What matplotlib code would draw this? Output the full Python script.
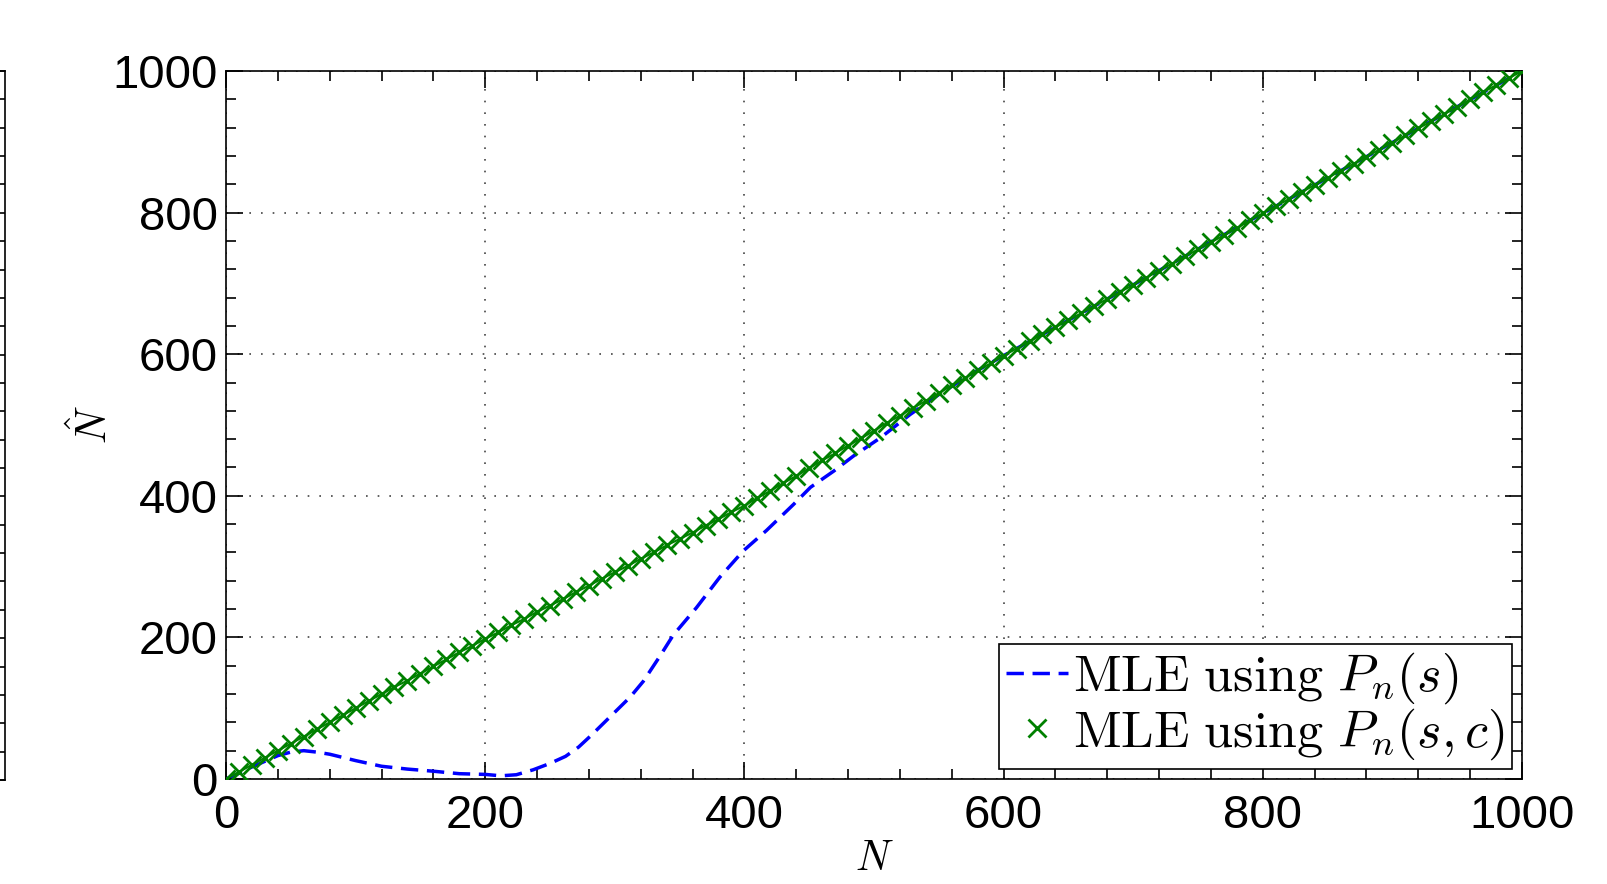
import numpy as np
import matplotlib
matplotlib.use('Agg')
from matplotlib import pyplot as plt
from matplotlib.ticker import MultipleLocator

plt.rcParams['font.family'] = ['Liberation Sans', 'DejaVu Sans']
plt.rcParams['mathtext.fontset'] = 'cm'

# MLE using P_n(s)  (blue dashed)
n_s = [0, 10, 20, 30, 40, 50, 60, 70, 80, 100, 120, 140, 160, 180, 200,
       212, 224, 237, 250, 262, 272, 282, 292, 302, 312, 322, 335, 345,
       363, 381, 399, 417, 438, 451, 469, 484, 505, 528, 550, 575, 600,
       650, 700, 800, 900, 1000]
est_s = [0, 8, 17, 25, 33, 38, 40, 38, 35, 26, 18, 14, 11, 7.5, 6.5,
         4.5, 6, 13, 22, 32, 45, 62, 80, 98, 116, 138, 174, 203,
         242, 285, 322, 351, 388, 412, 435, 456, 482, 515, 543, 572, 598,
         648, 698, 799, 899, 1000]

# MLE using P_n(s, c)  (green crosses, every 10)
n_sc = list(range(0, 1001, 10))
est_sc = [0, 10, 20, 30, 40, 50, 60, 70, 80, 90, 100, 110, 120, 130, 139,
          149, 159, 169, 179, 188, 198,
          207, 217, 226, 236, 245, 254, 264, 273, 283, 292, 301, 311, 320,
          330, 339, 348, 358, 367, 377, 386,
          397, 407, 418, 428, 439, 450, 460, 471, 481, 492, 503, 513, 524,
          534, 545, 556, 566, 577, 587, 598,
          608, 618, 628, 638, 648, 658, 668, 678, 688, 698, 708, 718, 728,
          738, 748, 758, 768, 778, 789, 799,
          809, 819, 829, 839, 849, 859, 869, 879, 889, 899, 909, 919, 929,
          939, 949, 960, 970, 980, 990, 1000]

x_ticks = [0, 200, 400, 600, 800, 1000]
y_ticks = [0, 200, 400, 600, 800, 1000]

W, H = 1608, 884
fig = plt.figure(figsize=(W / 100, H / 100), dpi=100)

# right edge of a neighbouring panel, cut off at the left border
side = fig.add_axes([-0.3, 1 - 780 / H, 0.3 + 5 / W, (780 - 71) / H])
side.set_ylim(0, 1000)
side.set_xticks([])
side.yaxis.set_major_locator(MultipleLocator(40))
side.yaxis.tick_right()
side.tick_params(axis='y', direction='in', length=7, width=1.2,
                 labelright=False)
for sp in side.spines.values():
    sp.set_linewidth(1.2)

ax = fig.add_axes([226 / W, 1 - 779 / H, (1522 - 226) / W, (779 - 71) / H])

ax.plot(n_s, est_s, color='blue', linestyle=(0, (5, 2.5)), linewidth=2.5,
        label=r'$\mathrm{MLE\ using}\ P_n(s)$')
ax.plot(n_sc, est_sc, color=(0, 0.5, 0), linewidth=1.5, zorder=3)
ax.plot(n_sc, est_sc, linestyle='none', marker='x', markersize=13,
        markeredgewidth=2, color=(0, 0.5, 0), zorder=4,
        label=r'$\mathrm{MLE\ using}\ P_n(s,c)$')

ax.set_xlim(0, 1000)
ax.set_ylim(0, 1000)
ax.set_xticks(x_ticks)
ax.set_yticks(y_ticks)
ax.xaxis.set_minor_locator(MultipleLocator(40))
ax.yaxis.set_minor_locator(MultipleLocator(40))
ax.tick_params(which='both', direction='in', top=True, right=True,
               width=1.2, labelsize=34)
ax.tick_params(which='major', length=12)
ax.tick_params(which='minor', length=7)
ax.tick_params(axis='x', pad=11)
ax.tick_params(axis='y', pad=6)
ax.grid(True, which='major', linestyle=(0, (1, 6)), color='#444444',
        linewidth=1.2)
for sp in ax.spines.values():
    sp.set_linewidth(1.2)

ax.set_xlabel(r'$N$', fontsize=30, labelpad=0.5)
ax.set_ylabel(r'$\hat{N}$', fontsize=30)
ax.yaxis.set_label_coords(-0.085, 0.5)

leg = ax.legend(loc='lower right', bbox_to_anchor=(0.992, 0.0145),
                borderaxespad=0, fontsize=37.5, fancybox=False,
                edgecolor='black', framealpha=1, handlelength=1.2,
                handletextpad=0.1, borderpad=0.13, labelspacing=0.0)
leg.get_frame().set_linewidth(1.2)

plt.savefig('out.png', dpi=100)
